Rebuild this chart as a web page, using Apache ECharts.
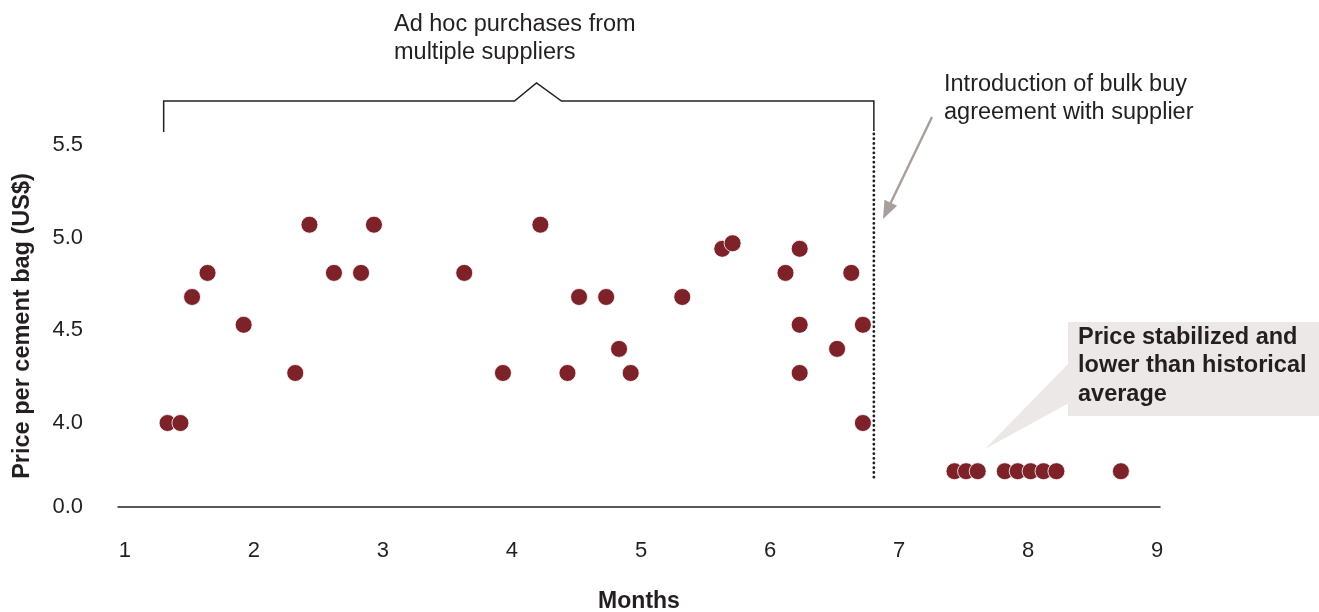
<!DOCTYPE html>
<html><head><meta charset="utf-8">
<script src="https://cdn.jsdelivr.net/npm/echarts@6/dist/echarts.min.js"></script>
<style>html,body{margin:0;padding:0;background:#fff}#c{width:1319px;height:612px}</style>
</head><body><div id="c"></div>
<script>
// Purchases before bulk-buy agreement (month, price)
const monthsBefore = [1.33, 1.43, 1.52, 1.64, 1.92, 2.32, 2.43, 2.62, 2.83, 2.93,
  3.63, 3.93, 4.22, 4.43, 4.52, 4.73, 4.83, 4.92, 5.32, 5.63, 5.71,
  6.12, 6.23, 6.23, 6.23, 6.52, 6.63, 6.72, 6.72];
const pricesBefore = [4.00, 4.00, 4.68, 4.81, 4.53, 4.27, 5.07, 4.81, 4.81, 5.07,
  4.81, 4.27, 5.07, 4.27, 4.68, 4.68, 4.40, 4.27, 4.68, 4.94, 4.97,
  4.81, 4.94, 4.53, 4.27, 4.40, 4.81, 4.53, 4.00];
// Purchases after bulk-buy agreement (shown below the axis break)
const monthsAfter = [7.43, 7.52, 7.61, 7.82, 7.92, 8.02, 8.12, 8.22, 8.72];
const pricesAfter = [3.74, 3.74, 3.74, 3.74, 3.74, 3.74, 3.74, 3.74, 3.74];

const xTicks = [1, 2, 3, 4, 5, 6, 7, 8, 9];
const yTicks = [3.547, 4.0, 4.5, 5.0, 5.5];
const yTickLabels = ['0.0', '4.0', '4.5', '5.0', '5.5'];
const agreementMonth = 6.805;
const bracketStartMonth = 1.30;
const bracketPeakMonth = 4.19;

const INK = '#231f20';
const DOT = '#7e2229';
const FONT = '"Liberation Sans", Arial, Helvetica, sans-serif';

const chart = echarts.init(document.getElementById('c'), null, {renderer: 'canvas'});
const pts = (xs, ys) => xs.map((x, i) => [x, ys[i]]);

chart.setOption({
  animation: false,
  backgroundColor: '#fff',
  textStyle: {fontFamily: FONT},
  grid: {left: 118, right: 159, top: 145, bottom: 105, outerBoundsMode: 'none', containLabel: false},
  xAxis: {
    type: 'value', min: 0.946, max: 9.023,
    name: 'Months', nameLocation: 'middle', nameGap: 83,
    nameTextStyle: {fontFamily: FONT, fontSize: 23, fontWeight: 'bold', color: INK},
    axisLine: {show: true, lineStyle: {color: INK, width: 1.5}},
    axisTick: {show: false},
    splitLine: {show: false},
    axisLabel: {customValues: xTicks, fontFamily: FONT, fontSize: 22, color: INK, margin: 33,
      formatter: v => String(Math.round(v))}
  },
  yAxis: {
    type: 'value', min: 3.547, max: 5.5,
    name: 'Price per cement bag (US$)', nameLocation: 'middle', nameGap: 83, nameRotate: 90,
    nameTextStyle: {fontFamily: FONT, fontSize: 23.5, fontWeight: 'bold', color: INK},
    axisLine: {show: false}, axisTick: {show: false}, splitLine: {show: false},
    axisLabel: {customValues: yTicks, fontFamily: FONT, fontSize: 22, color: INK, margin: 35,
      formatter: v => { let best = 0; yTicks.forEach((t, i) => { if (Math.abs(t - v) < Math.abs(yTicks[best] - v)) best = i; }); return yTickLabels[best]; }}
  },
  series: [
    {type: 'scatter', data: pts(monthsBefore, pricesBefore), symbolSize: 17,
      itemStyle: {color: DOT, borderColor: '#fff', borderWidth: 0.8, opacity: 1}},
    {type: 'scatter', data: pts(monthsAfter, pricesAfter), symbolSize: 17,
      itemStyle: {color: DOT, borderColor: '#fff', borderWidth: 0.8, opacity: 1}}
  ]
});

function px(x, y) { return chart.convertToPixel({gridIndex: 0}, [x, y]); }
const xAg = px(agreementMonth, 4)[0];
const xL = px(bracketStartMonth, 4)[0];
const xPk = px(bracketPeakMonth, 4)[0];

// arrow geometry
const aS = [932, 117], aE = [883, 219];
const dx = aE[0] - aS[0], dy = aE[1] - aS[1], L = Math.hypot(dx, dy);
const ux = dx / L, uy = dy / L, hl = 18, hw = 7;
const bx = aE[0] - ux * hl, by = aE[1] - uy * hl;

chart.setOption({
  graphic: [
    {type: 'polyline', shape: {points: [[xL, 132], [xL, 101], [xPk - 22, 101], [xPk, 83], [xPk + 25, 101], [xAg, 101], [xAg, 131]]},
      style: {stroke: INK, lineWidth: 1.5, fill: null}},
    {type: 'line', shape: {x1: xAg, y1: 134, x2: xAg, y2: 478},
      style: {stroke: INK, lineWidth: 2.8, lineDash: [0.1, 4.6], lineCap: 'round'}},
    {type: 'text', left: 394, top: 11,
      style: {text: 'Ad hoc purchases from\nmultiple suppliers', fill: INK, font: '23.5px ' + FONT, lineHeight: 28}},
    {type: 'text', left: 944, top: 71,
      style: {text: 'Introduction of bulk buy\nagreement with supplier', fill: INK, font: '23.5px ' + FONT, lineHeight: 28}},
    {type: 'line', shape: {x1: aS[0], y1: aS[1], x2: bx + ux * 2, y2: by + uy * 2},
      style: {stroke: '#a69f9b', lineWidth: 2.4}},
    {type: 'polygon', shape: {points: [[aE[0], aE[1]], [bx + uy * hw, by - ux * hw], [bx - uy * hw, by + ux * hw]]},
      style: {fill: '#a69f9b'}},
    {type: 'polygon', shape: {points: [[1069, 363], [1069, 403], [985, 449]]},
      style: {fill: '#ede8e8'}},
    {type: 'rect', shape: {x: 1068, y: 322, width: 251, height: 94},
      style: {fill: '#ede8e8'}},
    {type: 'text', left: 1078, top: 323,
      style: {text: 'Price stabilized and\nlower than historical\naverage', fill: INK, font: 'bold 23.5px ' + FONT, lineHeight: 28.5}}
  ]
});
</script>
</body></html>
